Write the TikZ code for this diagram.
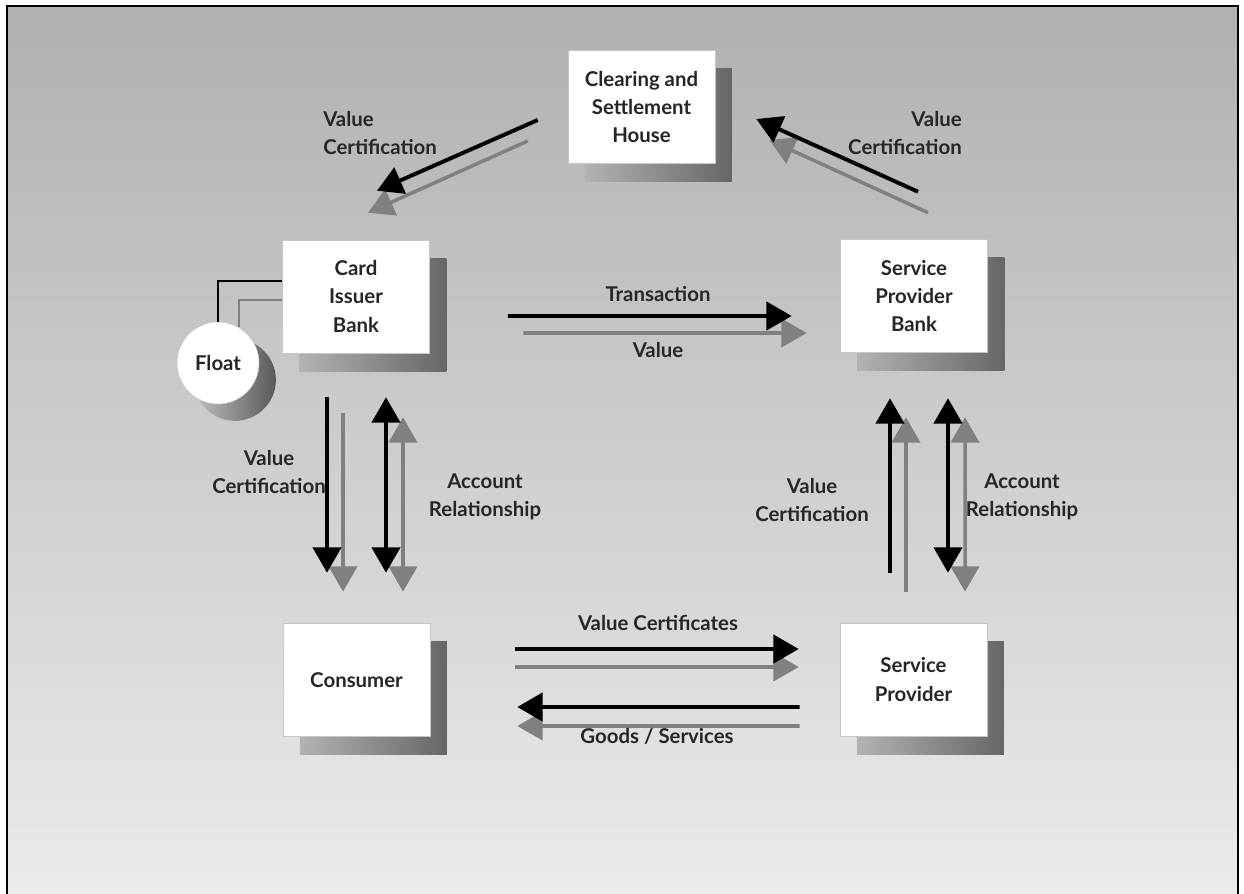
\documentclass[tikz,border=0pt]{standalone}
\usepackage{fontspec}
\setmainfont{Lato}
\usetikzlibrary{arrows.meta,shadows}

\definecolor{bgtop}{RGB}{176,176,176}
\definecolor{bgmid}{RGB}{206,206,206}
\definecolor{bgbot}{RGB}{236,236,236}
\definecolor{flow}{RGB}{128,128,128}

\tikzset{
  lbl/.style={font=\fontsize{14.5}{20}\selectfont\bfseries, text=black!85, align=center, inner sep=0pt},
  box/.style={lbl, draw=gray!45, fill=white, minimum width=3.675cm, minimum height=2.825cm,
    general shadow={shadow xshift=12pt, shadow yshift=-13pt, left color=black!30, right color=black!60}},
  floatbox/.style={lbl, circle, draw=gray!45, fill=white, minimum size=2.05cm, inner sep=0pt,
    general shadow={shadow xshift=12pt, shadow yshift=-12pt, left color=black!25, right color=black!65}},
  tip/.tip={Triangle[length=18pt, width=20pt]},
  main/.style={line width=2.8pt, black, -tip},
  echo/.style={line width=2.5pt, flow, -tip},
  both/.style={tip-tip}
}

\begin{document}
\begin{tikzpicture}[x=0.025cm, y=-0.025cm]
    \path[use as bounding box, clip] (0,0) rectangle (1244,894);

    % Frame with grey sky
    \shade[top color=bgtop, middle color=bgmid, bottom color=bgbot, draw=black, line width=1.5pt]
        (7,6) rectangle (1238,910);

    % Boxes
    \node[box] (clear) at (641.5,107) {Clearing and\\Settlement\\House};
    \node[box] (card) at (356,296.5) {Card\\Issuer\\Bank};
    \node[box] (spbank) at (914,296) {Service\\Provider\\Bank};
    \node[box] (consumer) at (356.5,680) {Consumer};
    \node[box] (sprov) at (913.5,679.5) {Service\\Provider};
    \node[floatbox] (float) at (218,363) {Float};

    % Float lines
    \draw[line width=1.6pt, black] ([shift={(0,-15.5)}]card.west) -| (float.north);
    \draw[line width=1.6pt, flow] ([shift={(0,3.5)}]card.west) -| (float.60);

    % Clearing house arrows
    \draw[echo] ([shift={(-40,34)}]clear.west) -- ([shift={(12,-27)}]card.north);
    \draw[main] ([shift={(-30,13)}]clear.west) -- ([shift={(21,-49)}]card.north);
    \draw[echo] ([shift={(14,-26.5)}]spbank.north) -- ([shift={(54,33)}]clear.east);
    \draw[main] ([shift={(4,-47.5)}]spbank.north) -- ([shift={(41,12)}]clear.east);
    \node[lbl, anchor=west, align=left] (vc1) at (323,133) {Value\\Certification};
    \node[lbl, anchor=east, align=right] (vc2) at (962,133) {Value\\Certification};

    % Bank to bank
    \draw[echo] ([shift={(93.5,36.5)}]card.east) -- ([shift={(-33.5,37)}]spbank.west);
    \draw[main] ([shift={(78,19.5)}]card.east) -- ([shift={(-48.5,20)}]spbank.west);
    \node[lbl] (trans) at (658,294) {Transaction};
    \node[lbl] (val) at (658,350) {Value};

    % Left side
    \draw[echo] ([shift={(-13,60)}]card.south) -- ([shift={(-13.5,-31.5)}]consumer.north);
    \draw[main] ([shift={(-29,44)}]card.south) -- ([shift={(-29.5,-50.5)}]consumer.north);
    \draw[echo, both] ([shift={(47,64)}]card.south) -- ([shift={(46.5,-31.5)}]consumer.north);
    \draw[main, both] ([shift={(30,44)}]card.south) -- ([shift={(29.5,-50.5)}]consumer.north);
    \node[lbl] (vc3) at (269,472) {Value\\Certification};
    \node[lbl] (ar1) at (485,497) {Account\\Relationship};

    % Right side
    \draw[echo] ([shift={(-7.5,-31)}]sprov.north) -- ([shift={(-8,64.5)}]spbank.south);
    \draw[main] ([shift={(-23.5,-50)}]sprov.north) -- ([shift={(-24,45.5)}]spbank.south);
    \draw[echo, both] ([shift={(51,64.5)}]spbank.south) -- ([shift={(51.5,-31)}]sprov.north);
    \draw[main, both] ([shift={(34,45.5)}]spbank.south) -- ([shift={(34.5,-50)}]sprov.north);
    \node[lbl] (vc4) at (812,500) {Value\\Certification};
    \node[lbl] (ar2) at (1022,497) {Account\\Relationship};

    % Bottom
    \draw[echo] ([shift={(85,-13)}]consumer.east) -- ([shift={(-41,-12.5)}]sprov.west);
    \draw[main] ([shift={(85,-31)}]consumer.east) -- ([shift={(-41,-30.5)}]sprov.west);
    \draw[echo] ([shift={(-40,46.5)}]sprov.west) -- ([shift={(87,46)}]consumer.east);
    \draw[main] ([shift={(-40,27.5)}]sprov.west) -- ([shift={(87,27)}]consumer.east);
    \node[lbl] (vcs) at (658,623) {Value Certificates};
    \node[lbl] (goods) at (657,736) {Goods / Services};
\end{tikzpicture}
\end{document}
